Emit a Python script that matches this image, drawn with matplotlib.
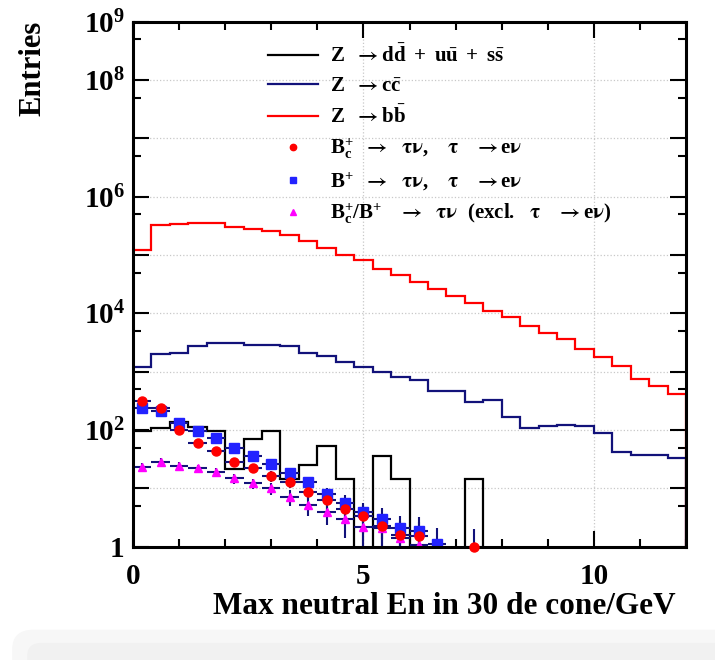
import numpy as np
import matplotlib
matplotlib.use("Agg")
import matplotlib.pyplot as plt
from matplotlib.ticker import FixedLocator, MultipleLocator
from matplotlib.patches import FancyBboxPatch

plt.rcParams['font.family'] = ['Liberation Serif', 'DejaVu Serif']
plt.rcParams['font.weight'] = 'bold'
plt.rcParams['mathtext.fontset'] = 'custom'
plt.rcParams['mathtext.rm'] = 'Liberation Serif'
plt.rcParams['mathtext.bf'] = 'Liberation Serif:bold'
plt.rcParams['mathtext.it'] = 'Liberation Serif:italic:bold'
plt.rcParams['mathtext.sf'] = 'STIXGeneral'
plt.rcParams['mathtext.default'] = 'bf'

# histogram binning: 30 bins in 0..12
edges = np.linspace(0, 12, 31)

# Z -> b bbar
z_bb = [1.22e5, 3.24e5, 3.45e5, 3.59e5, 3.59e5, 3.03e5, 2.83e5, 2.58e5, 2.18e5, 1.74e5,
        1.34e5, 9.9e4, 8.1e4, 5.8e4, 4.5e4, 3.5e4, 2.6e4, 2.0e4, 1.52e4, 1.1e4,
        8.8e3, 6.1e3, 4.55e3, 3.6e3, 2.42e3, 1.81e3, 1.25e3, 750, 570, 415]
# Z -> c cbar
z_cc = [1220, 2000, 2120, 2790, 3140, 3140, 2900, 2900, 2760, 2070,
        1880, 1490, 1220, 1000, 820, 720, 467, 473, 306, 327,
        165, 110, 116, 121, 116, 88, 41.5, 38, 38, 32.8]
# Z -> light quarks
z_uds = [97, 110, 139, 111, 97, 21.5, 70, 97, 14.5, 25,
         53, 14.5, 0, 36, 14.5, 0, 0, 0, 14.5, 0,
         0, 0, 0, 0, 0, 0, 0, 0, 0, 0]

# Bc+ -> tau nu, tau -> e nu
bc_x = [0.2, 0.6, 1.0, 1.4, 1.8, 2.2, 2.6, 3.0, 3.4, 3.8, 4.2, 4.6, 5.0, 5.4, 5.8, 6.2, 7.4]
bc_y = [318, 236, 100, 61, 44, 28.5, 22, 16.5, 13, 8.8, 6.3, 4.4, 3.4, 2.3, 1.6, 1.54, 1.0]
bc_err = [15, 13, 8, 6.5, 5.5, 4.5, 4, 3.4, 3, 2.5, 2.2, 1.9, 1.7, 1.4, 1.2, 1.1, 1.0]

# B+ -> tau nu, tau -> e nu
bu_x = [0.2, 0.6, 1.0, 1.4, 1.8, 2.2, 2.6, 3.0, 3.4, 3.8, 4.2, 4.6, 5.0, 5.4, 5.8, 6.2, 6.6]
bu_y = [242, 215, 130, 97.5, 72, 48.6, 36, 25.8, 18.1, 12.7, 8.0, 5.7, 3.9, 2.95, 2.07, 1.87, 1.12]
bu_err = [14, 13, 10, 8.5, 7.5, 6, 5.2, 4.3, 3.6, 3.0, 2.0, 2.0, 1.65, 1.6, 1.3, 1.3, 0.95]

# Bc+/B+ -> tau nu (other tau decays)
mix_x = [0.2, 0.6, 1.0, 1.4, 1.8, 2.2, 2.6, 3.0, 3.4, 3.8, 4.2, 4.6, 5.0, 5.4, 5.8, 6.2]
mix_y = [23, 28.6, 24.2, 22, 19.3, 14.9, 12.2, 10, 7.2, 5.2, 4.0, 2.95, 2.15, 2.07, 1.39, 1.07]
mix_err = [3.9, 4.1, 3.8, 3.6, 3.3, 2.8, 2.5, 2.2, 2.2, 1.8, 1.6, 1.55, 1.4, 1.3, 1.0, 0.9]

ytick_vals = [1, 1e1, 1e2, 1e3, 1e4, 1e5, 1e6, 1e7, 1e8, 1e9]
ytick_labels = ['1', '', '$10^{2}$', '', '$10^{4}$', '', '$10^{6}$', '', '$10^{8}$', '$10^{9}$']

navy = '#12127a'

fig = plt.figure(figsize=(7.15, 6.6), dpi=100)
ax = fig.add_axes([133 / 715, 1 - 546.7 / 660, 553 / 715, 525 / 660])
ax.set_yscale('log')

h_bb = ax.stairs(z_bb, edges, color='#ff0000', lw=1.6, baseline=0)
h_cc = ax.stairs(z_cc, edges, color=navy, lw=1.6, baseline=0)
h_uds = ax.stairs(z_uds, edges, color='black', lw=1.6, baseline=0)

eb_mix = ax.errorbar(mix_x, mix_y, xerr=0.2, yerr=mix_err, fmt='^', color='#ff00ff',
                     ms=6, ecolor=navy, elinewidth=1.5, capsize=0)
eb_bu = ax.errorbar(bu_x, bu_y, xerr=0.2, yerr=bu_err, fmt='s', color='#2222ff',
                    ms=6.5, ecolor=navy, elinewidth=1.5, capsize=0)
eb_bc = ax.errorbar(bc_x, bc_y, xerr=0.2, yerr=bc_err, fmt='o', color='#ff0000',
                    ms=6.5, ecolor=navy, elinewidth=1.5, capsize=0)
eb_bc[0].set_clip_on(False)
eb_bc[0].set_zorder(5)

ax.set_xlim(0, 12)
ax.set_ylim(1, 1e9)
ax.set_yticks(ytick_vals)
ax.set_yticklabels(ytick_labels)
ax.yaxis.set_minor_locator(FixedLocator([5 * 10 ** k for k in range(0, 9)]))
ax.yaxis.set_minor_formatter(plt.NullFormatter())
ax.set_xticks([0, 5, 10])
ax.set_xticklabels(['0', '5', '10'])
ax.xaxis.set_minor_locator(MultipleLocator(1))

ax.grid(True, which='major', linestyle=':', color='#c8c8c8', linewidth=0.9)
ax.set_axisbelow(True)
ax.tick_params(which='both', direction='in', top=True, right=True, width=1.5)
ax.tick_params(which='major', length=11.5, labelsize=21)
ax.tick_params(which='minor', length=5.5)
ax.tick_params(axis='x', which='major', pad=12)
ax.tick_params(axis='y', which='major', pad=6)
for s in ax.spines.values():
    s.set_linewidth(2.2)

arr = r'\mathsf{\rightarrow}'
tn = r'\mathsf{\tau\nu}'
ta = r'\mathsf{\tau}'
en = r'e\mathsf{\nu}'
labels = [r'$Z\ \ ' + arr + r'd\bar{d}\ +\ u\bar{u}\ +\ s\bar{s}$',
          r'$Z\ \ ' + arr + r'c\bar{c}$',
          r'$Z\ \ ' + arr + r'b\bar{b}$',
          r'$B_{c}^{+}\ \ ' + arr + r'\ \ ' + tn + r',\ \ \ ' + ta + r'\ \ \ ' + arr + en + '$',
          r'$B^{+}\ \ ' + arr + r'\ \ ' + tn + r',\ \ \ ' + ta + r'\ \ \ ' + arr + en + '$',
          r'$B_{c}^{+}/B^{+}\ \ \ ' + arr + r'\ \ ' + tn + r'$  (excl.   $' + ta + r'\ \ \ ' + arr + en + '$)']
ax.legend([h_uds, h_cc, h_bb, eb_bc[0], eb_bu[0], eb_mix[0]], labels,
          loc='upper left', bbox_to_anchor=(0.244, 0.957), frameon=False,
          fontsize=15, handlelength=2.4, handletextpad=0.58, labelspacing=0.44,
          borderpad=0, borderaxespad=0, markerscale=0.7)

fig.text(0.046, 0.968, 'Entries', rotation=90, ha='center', va='top', fontsize=22)
fig.text(676 / 715, 1 - 607 / 660, 'Max neutral En in 30 de cone/GeV',
         ha='right', va='center', fontsize=22.5)

# light strip at the bottom of the screenshot
fig.patches.append(FancyBboxPatch((0.017, -0.05), 1.1, 0.096, boxstyle='round,pad=0,rounding_size=0.03',
                                  transform=fig.transFigure, facecolor='#f7f7f7', edgecolor='none', zorder=-5))
fig.patches.append(FancyBboxPatch((0.038, -0.05), 1.1, 0.076, boxstyle='round,pad=0,rounding_size=0.02',
                                  transform=fig.transFigure, facecolor='#f1f1f1', edgecolor='none', zorder=-4))

fig.savefig('out.png', dpi=100)
